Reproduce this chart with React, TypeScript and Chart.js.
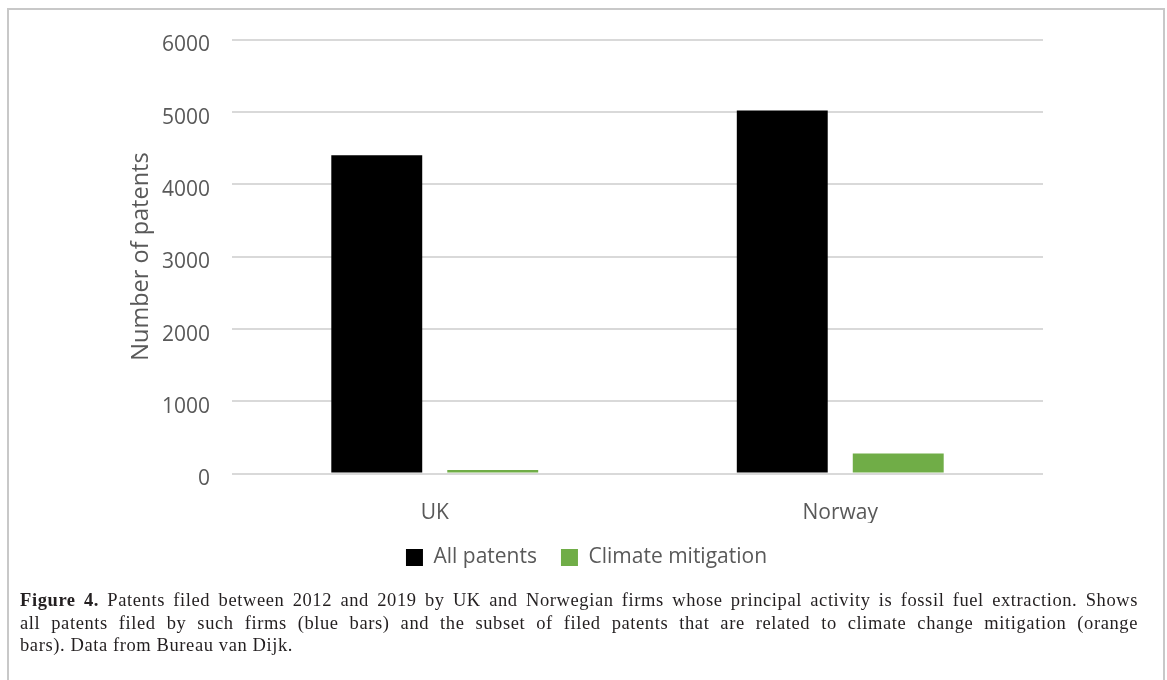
import React, { useEffect, useRef } from "react";
import { Chart, registerables } from "chart.js";

Chart.register(...registerables);

const categories = ["UK", "Norway"];
const allPatents = [4400, 5020];
const climateMitigation = [50, 275];
const yTicks = [0, 1000, 2000, 3000, 4000, 5000, 6000];

const TEXT = "#595959";
const FONT = "'Open Sans', sans-serif";

const captionLine: React.CSSProperties = {
  width: 1118,
  textAlign: "justify",
  textAlignLast: "justify",
  whiteSpace: "nowrap",
};

export default function App() {
  const ref = useRef<HTMLCanvasElement | null>(null);

  useEffect(() => {
    document.body.style.margin = "0";
    document.body.style.overflow = "hidden";
    const ctx = ref.current!;
    const chart = new Chart(ctx, {
      type: "bar",
      data: {
        labels: categories,
        datasets: [
          {
            label: "All patents",
            data: allPatents,
            backgroundColor: "#000000",
            borderWidth: 0,
            categoryPercentage: 0.572,
            barPercentage: 0.784,
          },
          {
            label: "Climate mitigation",
            data: climateMitigation,
            backgroundColor: "#70ad47",
            borderWidth: 0,
            categoryPercentage: 0.572,
            barPercentage: 0.784,
          },
        ],
      },
      options: {
        animation: false,
        responsive: false,
        devicePixelRatio: 1,
        layout: { padding: { left: 130, right: 124, top: 39.5, bottom: 0 } },
        plugins: {
          legend: {
            position: "bottom",
            labels: {
              boxWidth: 17,
              boxHeight: 17,
              padding: 24,
              color: TEXT,
              font: { family: FONT, size: 21 },
            },
          },
          tooltip: { enabled: false },
        },
        scales: {
          x: {
            grid: { display: false, drawTicks: false },
            border: { display: false },
            ticks: { color: TEXT, font: { family: FONT, size: 21 }, padding: 26.5 },
            afterFit: (s: any) => {
              s.height = 49.5;
            },
          },
          y: {
            min: 0,
            max: 6000,
            afterBuildTicks: (s: any) => {
              s.ticks = yTicks.map((v) => ({ value: v }));
            },
            grid: { color: "#d9d9d9", lineWidth: 2, drawTicks: false },
            border: { display: false },
            ticks: {
              color: TEXT,
              font: { family: FONT, size: 21, lineHeight: "12px" },
              padding: 22,
              callback: (v: any) => ["", String(v)],
            },
            title: {
              display: true,
              text: "Number of patents",
              color: TEXT,
              font: { family: FONT, size: 23.5, lineHeight: 1 },
              padding: { top: 0, bottom: 0 },
            },
            afterFit: (s: any) => {
              s.width = 102;
            },
          },
        },
      },
    });
    return () => chart.destroy();
  }, []);

  return (
    <div>
      <div
        style={{
          position: "fixed",
          left: 7,
          top: 8,
          width: 1158,
          height: 700,
          border: "2px solid #c8c8c8",
          boxSizing: "border-box",
        }}
      />
      <canvas
        ref={ref}
        width={1167}
        height={578}
        style={{ position: "fixed", left: 0, top: 0, width: 1167, height: 578 }}
      />
      <div
        style={{
          position: "fixed",
          left: 20,
          top: 589,
          fontFamily: "'Liberation Serif', serif",
          fontSize: 18.5,
          letterSpacing: "0.6px",
          lineHeight: "22.5px",
          color: "#231f20",
        }}
      >
        <div style={captionLine}>
          <b>Figure 4.</b> Patents filed between 2012 and 2019 by UK and Norwegian firms whose
          principal activity is fossil fuel extraction. Shows
        </div>
        <div style={captionLine}>
          all patents filed by such firms (blue bars) and the subset of filed patents that are
          related to climate change mitigation (orange
        </div>
        <div style={{ whiteSpace: "nowrap" }}>bars). Data from Bureau van Dijk.</div>
      </div>
    </div>
  );
}
